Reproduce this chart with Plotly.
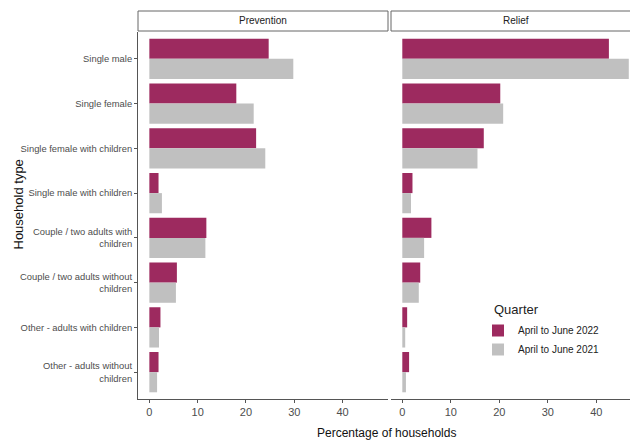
import plotly.graph_objects as go

categories = [
    "Single male",
    "Single female",
    "Single female with children",
    "Single male with children",
    "Couple / two adults with<br>children",
    "Couple / two adults without<br>children",
    "Other - adults with children",
    "Other - adults without<br>children",
]
series_names = ["April to June 2022", "April to June 2021"]
prevention_2022 = [24.7, 18.0, 22.1, 1.9, 11.8, 5.7, 2.3, 1.9]
prevention_2021 = [29.8, 21.6, 24.0, 2.6, 11.6, 5.5, 2.0, 1.6]
relief_2022 = [42.6, 20.2, 16.8, 2.1, 6.0, 3.7, 1.0, 1.4]
relief_2021 = [46.7, 20.8, 15.5, 1.8, 4.5, 3.4, 0.6, 0.75]
panel_titles = ["Prevention", "Relief"]
legend_title = "Quarter"
x_ticks = [0, 10, 20, 30, 40]

MAGENTA = "#9D2A5F"
GREY = "#C0C0C0"
FONT = "Liberation Sans, Arial, sans-serif"

# the page body adds an 8px offset; size the figure to fill the 638x443 view
OFF = 8
W, H = 638 - OFF, 443 - OFF


def fx(px):
    return (px - OFF) / W


def fy(py):
    return 1 - (py - OFF) / H


fig = go.Figure()
panels = [(prevention_2022, prevention_2021, "x", "y"), (relief_2022, relief_2021, "x2", "y2")]
for i, (v22, v21, xa, ya) in enumerate(panels):
    for name, vals, col in [(series_names[0], v22, MAGENTA), (series_names[1], v21, GREY)]:
        fig.add_trace(go.Bar(
            x=vals, y=categories, orientation="h", name=name,
            marker=dict(color=col, line=dict(width=0)),
            xaxis=xa, yaxis=ya, legendgroup=name, showlegend=(i == 0),
            hoverinfo="x+y+name",
        ))

d1 = [fx(138), fx(388)]
d2 = [fx(391), 1.0]
ydom = [fy(399), fy(32)]
axis_common = dict(
    showgrid=False, zeroline=False, showline=True, linecolor="#555555", linewidth=1,
    ticks="outside", ticklen=3, tickcolor="#555555", automargin=False,
    tickvals=x_ticks, tickfont=dict(family=FONT, size=11, color="#4D4D4D"),
)
fig.update_layout(
    width=W, height=H,
    margin=dict(l=0, r=0, t=0, b=0, autoexpand=False),
    paper_bgcolor="white", plot_bgcolor="white",
    barmode="group", bargap=0.1, bargroupgap=0,
    font=dict(family=FONT, color="#222222"),
    xaxis=dict(domain=d1, range=[-2.35, 49.4], anchor="y", **axis_common),
    xaxis2=dict(domain=d2, range=[-2.33, 48.6], anchor="y2", **axis_common),
    yaxis=dict(
        domain=ydom,
        categoryorder="array", categoryarray=categories, range=[7.6, -0.6],
        showgrid=False, zeroline=False, showline=True, linecolor="#555555", linewidth=1,
        ticks="outside", ticklen=3, tickcolor="#555555", automargin=False,
        tickfont=dict(family=FONT, size=9.4, color="#4D4D4D"),
        anchor="x",
    ),
    yaxis2=dict(
        domain=ydom,
        categoryorder="array", categoryarray=categories, range=[7.6, -0.6],
        showgrid=False, zeroline=False, showline=False, showticklabels=False,
        anchor="x2", matches="y", automargin=False,
    ),
    legend=dict(
        x=fx(478), y=fy(316), xanchor="left", yanchor="top",
        font=dict(family=FONT, size=10, color="#222222"),
        bgcolor="rgba(0,0,0,0)", tracegroupgap=0, itemwidth=30,
    ),
    showlegend=True,
)

# legend title
fig.add_annotation(text=legend_title, xref="paper", yref="paper",
                   x=fx(492), y=fy(309), showarrow=False,
                   font=dict(family=FONT, size=13, color="#222222"),
                   xanchor="left", yanchor="middle")

# facet strips
for (a, b), title in zip([(138, 388), (391, 641)], panel_titles):
    fig.add_shape(type="rect", xref="paper", yref="paper",
                  x0=fx(a), x1=fx(b), y0=fy(31), y1=fy(11),
                  line=dict(color="#666666", width=1), fillcolor="white", layer="above")
    fig.add_annotation(text=title, xref="paper", yref="paper",
                       x=fx((a + b) / 2), y=fy(21), showarrow=False,
                       font=dict(family=FONT, size=10, color="#222222"),
                       xanchor="center", yanchor="middle")

# axis titles
fig.add_annotation(text="Percentage of households", xref="paper", yref="paper",
                   x=fx(386), y=fy(433), showarrow=False,
                   font=dict(family=FONT, size=12, color="#111111"),
                   xanchor="center", yanchor="middle")
fig.add_annotation(text="Household type", xref="paper", yref="paper",
                   x=0, y=fy(205), showarrow=False,
                   textangle=-90,
                   font=dict(family=FONT, size=13, color="#111111"),
                   xanchor="left", yanchor="middle")

fig.write_html("out.html")
